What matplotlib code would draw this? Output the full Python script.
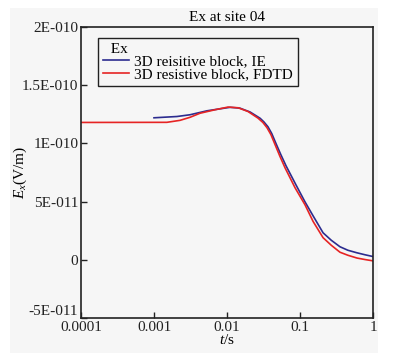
import matplotlib
matplotlib.use("Agg")
import matplotlib.pyplot as plt
from matplotlib.patches import Rectangle

# ---- data ----
t_fdtd = [0.0001, 0.0015, 0.00227, 0.00311, 0.00427, 0.00685, 0.0103, 0.0142,
          0.0194, 0.0266, 0.0310, 0.0353, 0.0400, 0.0455, 0.0530, 0.0624,
          0.0855, 0.117, 0.151, 0.207, 0.268, 0.353, 0.453, 0.604, 0.78, 1.0]
ex_fdtd = [1.180, 1.181, 1.198, 1.224, 1.259, 1.289, 1.312, 1.306,
           1.274, 1.217, 1.180, 1.135, 1.075, 0.990, 0.890, 0.790,
           0.619, 0.473, 0.330, 0.190, 0.125, 0.065, 0.039, 0.015, 0.002, -0.009]  # x 1e-10 V/m

t_ie = [0.001, 0.00206, 0.00311, 0.00532, 0.00802, 0.0110, 0.0150, 0.0207,
        0.0284, 0.0320, 0.0364, 0.0410, 0.0468, 0.0545, 0.0643, 0.088,
        0.117, 0.151, 0.207, 0.268, 0.353, 0.453, 0.604, 0.78, 1.0]
ex_ie = [1.220, 1.231, 1.246, 1.280, 1.297, 1.310, 1.303, 1.270,
         1.216, 1.185, 1.143, 1.085, 1.000, 0.905, 0.808, 0.644,
         0.498, 0.378, 0.232, 0.168, 0.112, 0.082, 0.060, 0.043, 0.028]  # x 1e-10 V/m

yticks = [-5e-11, 0, 5e-11, 1e-10, 1.5e-10, 2e-10]
ytick_labels = ["-5E-011", "0", "5E-011", "1E-010", "1.5E-010", "2E-010"]
xticks = [0.0001, 0.001, 0.01, 0.1, 1]
xtick_labels = ["0.0001", "0.001", "0.01", "0.1", "1"]

label_ie = "3D reisitive block, IE"
label_fdtd = "3D resistive block, FDTD"

plt.rcParams["font.family"] = ["Liberation Serif", "DejaVu Serif"]
plt.rcParams["mathtext.fontset"] = "custom"
plt.rcParams["mathtext.rm"] = "Liberation Serif"
plt.rcParams["mathtext.it"] = "Liberation Serif:italic"

FS = 11
W, H = 395, 361
fig = plt.figure(figsize=(W / 100, H / 100), dpi=100, facecolor="white")
bg = "#f6f6f6"
rect = Rectangle((10 / W, 1 - 353 / H), (378 - 10) / W, (353 - 8) / H,
                 transform=fig.transFigure, facecolor=bg,
                 edgecolor="none", zorder=-10)
fig.add_artist(rect)

ax = fig.add_axes([81 / W, 1 - 318 / H, (373 - 81) / W, (318 - 27) / H])
ax.set_facecolor(bg)
ax.set_zorder(1)

ax.plot(t_ie, [v * 1e-10 for v in ex_ie], color="#2c2c8f", lw=1.2, label=label_ie)
ax.plot(t_fdtd, [v * 1e-10 for v in ex_fdtd], color="#e62424", lw=1.2, label=label_fdtd)

ax.set_xscale("log")
ax.set_xlim(1e-4, 1)
ax.set_ylim(-5e-11, 2e-10)
ax.set_xticks(xticks)
ax.set_xticklabels(xtick_labels)
ax.set_yticks(yticks)
ax.set_yticklabels(ytick_labels)
ax.xaxis.set_minor_locator(matplotlib.ticker.NullLocator())
ax.tick_params(direction="in", length=4, width=1, labelsize=FS, pad=2,
               colors="#222222")
for s in ax.spines.values():
    s.set_linewidth(1.2)
    s.set_color("#222222")

# lowest y tick label sits just above the x axis, as in the reference
ax.get_yticklabels()[0].set_verticalalignment("bottom")

ax.set_title("Ex at site 04", fontsize=FS, pad=4)
ax.set_xlabel("$t$/s", fontsize=FS)
ax.xaxis.set_label_coords(0.5, (318 - 333) / 291)
ax.set_ylabel("$E_x$(V/m)", fontsize=FS)
ax.yaxis.set_label_coords((29 - 81) / 292, 0.5)

leg = ax.legend(title="  Ex", loc="upper left",
                bbox_to_anchor=((98 - 81) / 292, (318 - 38) / 291),
                borderaxespad=0,
                fontsize=FS, title_fontsize=FS, frameon=True, fancybox=False,
                edgecolor="#222222", facecolor=bg, framealpha=1,
                handlelength=1.75, handletextpad=0.33, borderpad=0.3,
                labelspacing=-0.05, alignment="left")
leg.get_frame().set_linewidth(1.0)

fig.savefig("out.png", dpi=100, facecolor="white")
